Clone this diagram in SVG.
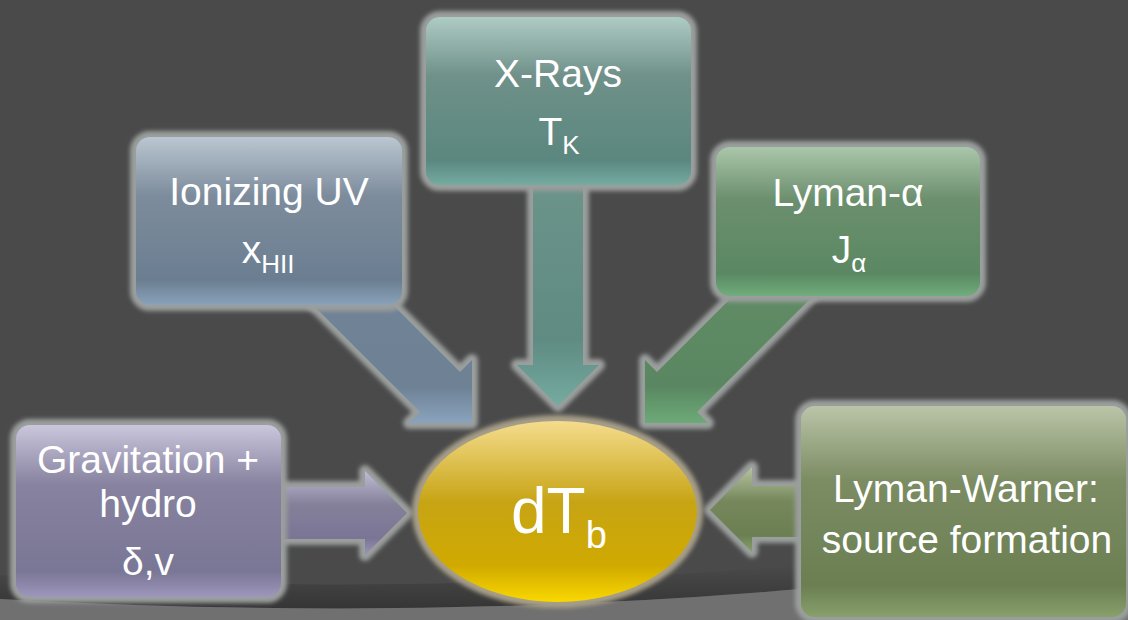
<svg xmlns="http://www.w3.org/2000/svg" width="1128" height="620" viewBox="0 0 1128 620">
<defs>
<style>
.glow{fill:none;stroke:#9a9e9c;stroke-width:12;stroke-linejoin:round;filter:url(#blur)}
.eglow{fill:none;stroke:#a69e88;stroke-width:12;filter:url(#blur)}
.t{font-family:"Liberation Sans",Arial,sans-serif;font-size:39px;fill:#ffffff;text-anchor:middle}
</style>
<filter id="blur" x="-20%" y="-20%" width="140%" height="140%"><feGaussianBlur stdDeviation="2"/></filter>
<linearGradient id="gIon" x1="0" y1="0" x2="0" y2="1"><stop offset="0" stop-color="#bac6d1"/><stop offset="0.35" stop-color="#7d8c9c"/><stop offset="0.85" stop-color="#6b7e91"/><stop offset="1" stop-color="#8aa2ba"/></linearGradient>
<linearGradient id="gX" x1="0" y1="0" x2="0" y2="1"><stop offset="0" stop-color="#aecbc4"/><stop offset="0.35" stop-color="#6f9189"/><stop offset="0.85" stop-color="#5a877f"/><stop offset="1" stop-color="#75aba1"/></linearGradient>
<linearGradient id="gLy" x1="0" y1="0" x2="0" y2="1"><stop offset="0" stop-color="#aac6aa"/><stop offset="0.35" stop-color="#6c8f6e"/><stop offset="0.85" stop-color="#5a8862"/><stop offset="1" stop-color="#71ad7c"/></linearGradient>
<linearGradient id="gGr" x1="0" y1="0" x2="0" y2="1"><stop offset="0" stop-color="#cac6dc"/><stop offset="0.35" stop-color="#86829f"/><stop offset="0.85" stop-color="#7a7695"/><stop offset="1" stop-color="#9d97bc"/></linearGradient>
<linearGradient id="gLw" x1="0" y1="0" x2="0" y2="1"><stop offset="0" stop-color="#bac5a8"/><stop offset="0.35" stop-color="#7c8c63"/><stop offset="0.85" stop-color="#6b7f52"/><stop offset="1" stop-color="#88a06c"/></linearGradient>
<linearGradient id="gEl" x1="0" y1="0" x2="0" y2="1"><stop offset="0" stop-color="#f5dc8e"/><stop offset="0.45" stop-color="#c7a414"/><stop offset="0.8" stop-color="#d0aa00"/><stop offset="1" stop-color="#fad800"/></linearGradient>
<linearGradient id="aIon" gradientUnits="userSpaceOnUse" x1="0" y1="300" x2="0" y2="423"><stop offset="0" stop-color="#718396"/><stop offset="0.7" stop-color="#6e8195"/><stop offset="1" stop-color="#8aa3bd"/></linearGradient>
<linearGradient id="aX" gradientUnits="userSpaceOnUse" x1="0" y1="185" x2="0" y2="406"><stop offset="0" stop-color="#6b938a"/><stop offset="0.7" stop-color="#5f8b83"/><stop offset="1" stop-color="#75aba0"/></linearGradient>
<linearGradient id="aLy" gradientUnits="userSpaceOnUse" x1="0" y1="300" x2="0" y2="423"><stop offset="0" stop-color="#5f8a64"/><stop offset="0.7" stop-color="#5a8761"/><stop offset="1" stop-color="#6daa78"/></linearGradient>
<linearGradient id="aGr" gradientUnits="userSpaceOnUse" x1="0" y1="471" x2="0" y2="555"><stop offset="0" stop-color="#c0bcd6"/><stop offset="0.4" stop-color="#858099"/><stop offset="0.8" stop-color="#7a7595"/><stop offset="1" stop-color="#9a94b8"/></linearGradient>
<linearGradient id="aLw" gradientUnits="userSpaceOnUse" x1="0" y1="467" x2="0" y2="552"><stop offset="0" stop-color="#b6c4a0"/><stop offset="0.4" stop-color="#76875c"/><stop offset="0.8" stop-color="#6b7f52"/><stop offset="1" stop-color="#86a06b"/></linearGradient>
<linearGradient id="shade" x1="0" y1="0" x2="0" y2="1"><stop offset="0" stop-color="#000" stop-opacity="0"/><stop offset="1" stop-color="#000" stop-opacity="0.28"/></linearGradient>
</defs>
<rect width="1128" height="620" fill="#4a4a4a"/>
<path d="M0,575 Q420,598 800,565 L800,589 Q420,622 0,599 Z" fill="url(#shade)"/>
<path d="M0,599 Q420,622 800,589 L1128,585 L1128,620 L0,620 Z" fill="#707070"/>

<g id="connectors">
  <g id="arrow-ion">
    <polygon class="glow" points="300,292 380,292 460,372 472,360 472,423 409,423 420,412"/>
    <polygon fill="url(#aIon)" points="300,292 380,292 460,372 472,360 472,423 409,423 420,412"/>
  </g>
  <g id="arrow-x">
    <polygon class="glow" points="533,180 583,180 583,365 599,365 558,406 517,365 533,365"/>
    <polygon fill="url(#aX)" points="533,180 583,180 583,365 599,365 558,406 517,365 533,365"/>
  </g>
  <g id="arrow-ly">
    <polygon class="glow" points="817,292 737,292 657,372 645,360 645,423 708,423 697,412"/>
    <polygon fill="url(#aLy)" points="817,292 737,292 657,372 645,360 645,423 708,423 697,412"/>
  </g>
  <g id="arrow-gr">
    <polygon class="glow" points="275,487 365,487 365,471 407,513 365,555 365,539 275,539"/>
    <polygon fill="url(#aGr)" points="275,487 365,487 365,471 407,513 365,555 365,539 275,539"/>
  </g>
  <g id="arrow-lw">
    <polygon class="glow" points="806,486 752,486 752,467 710,510 752,552 752,537 806,537"/>
    <polygon fill="url(#aLw)" points="806,486 752,486 752,467 710,510 752,552 752,537 806,537"/>
  </g>
</g>

<g id="node-ionizing">
  <rect class="glow" x="136" y="137" width="266" height="168" rx="14"/>
  <rect x="136" y="137" width="266" height="168" rx="14" fill="url(#gIon)"/>
  <text class="t" x="269" y="205">Ionizing UV</text>
  <text class="t" x="268" y="263">x<tspan font-size="26" dy="10">HII</tspan></text>
</g>

<g id="node-xrays">
  <rect class="glow" x="426" y="17" width="265" height="168" rx="14"/>
  <rect x="426" y="17" width="265" height="168" rx="14" fill="url(#gX)"/>
  <text class="t" x="558" y="87">X-Rays</text>
  <text class="t" x="559" y="145">T<tspan font-size="26" dy="9">K</tspan></text>
</g>

<g id="node-lymanalpha">
  <rect class="glow" x="716" y="147" width="264" height="149" rx="14"/>
  <rect x="716" y="147" width="264" height="149" rx="14" fill="url(#gLy)"/>
  <text class="t" x="848" y="206">Lyman-α</text>
  <text class="t" x="849" y="263">J<tspan font-size="26" dy="9">α</tspan></text>
</g>

<g id="node-gravitation">
  <rect class="glow" x="16" y="425" width="265" height="172" rx="14"/>
  <rect x="16" y="425" width="265" height="172" rx="14" fill="url(#gGr)"/>
  <text class="t" x="148" y="473">Gravitation +</text>
  <text class="t" x="148" y="517">hydro</text>
  <text class="t" x="148" y="575">δ,v</text>
</g>

<g id="node-lymanwarner">
  <rect class="glow" x="801" y="406" width="325" height="211" rx="14"/>
  <rect x="801" y="406" width="325" height="211" rx="14" fill="url(#gLw)"/>
  <text class="t" x="966" y="502">Lyman-Warner:</text>
  <text class="t" x="967" y="553">source formation</text>
</g>

<g id="node-dtb">
  <ellipse class="eglow" cx="557.5" cy="511.5" rx="139.5" ry="90.5"/>
  <ellipse cx="557.5" cy="511.5" rx="139.5" ry="90.5" fill="url(#gEl)"/>
  <text x="511" y="533" font-family="'Liberation Sans',Arial,sans-serif" font-size="64" fill="#ffffff">dT<tspan font-size="38" dy="15">b</tspan></text>
</g>
</svg>
